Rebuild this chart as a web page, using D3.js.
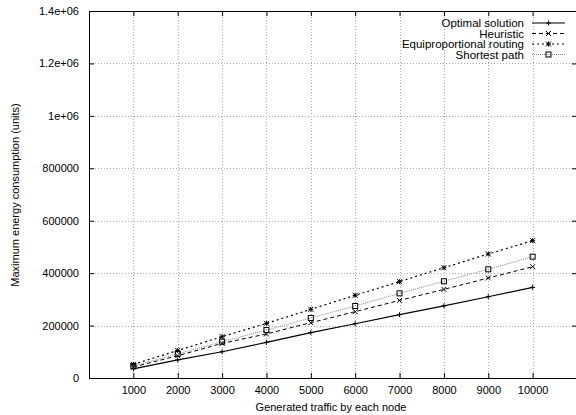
<!DOCTYPE html>
<html>
<head>
<meta charset="utf-8">
<script src="https://cdn.jsdelivr.net/npm/d3@7"></script>
<style>
  body { margin: 0; background: #fff; }
  text { font-family: "Liberation Sans", Arial, sans-serif; font-size: 11px; fill: #000; }
</style>
</head>
<body>
<div id="chart"></div>
<script>
// traffic per node
const traffic = [1000, 2000, 3000, 4000, 5000, 6000, 7000, 8000, 9000, 10000];
const optimal = [35000, 69000, 100000, 136000, 173000, 207000, 241500, 275000, 310000, 346000];
const heuristic = [42000, 85000, 132000, 168000, 211000, 253000, 296000, 338000, 381500, 424600];
const equiprop = [52000, 105000, 157600, 208600, 262000, 315500, 367500, 420800, 473000, 524000];
const shortest = [46000, 92000, 138500, 183000, 229000, 274700, 323000, 369000, 414700, 462800];
const yTicks = [0, 200000, 400000, 600000, 800000, 1000000, 1200000, 1400000];
const yTickLabels = ["0", "200000", "400000", "600000", "800000", "1e+06", "1.2e+06", "1.4e+06"];

const series = [
    { name: "Optimal solution", values: optimal, dash: null, color: "#000", marker: "plus", width: 1.2 },
    { name: "Heuristic", values: heuristic, dash: "4,3", color: "#000", marker: "cross", width: 1 },
    { name: "Equiproportional routing", values: equiprop, dash: "2,3", color: "#000", marker: "star", width: 1.2 },
    { name: "Shortest path", values: shortest, dash: "1,1", color: "#888", marker: "box", width: 1 }
];

const width = 576, height = 415;
const plotLeft = 89, plotRight = 577, plotTop = 11, plotBottom = 378;

const svg = d3.select("#chart").append("svg")
    .attr("width", width)
    .attr("height", height);

const x = d3.scaleLinear().domain([0, 11000]).range([plotLeft, plotRight]);
const y = d3.scaleLinear().domain([0, 1400000]).range([plotBottom, plotTop]);

// grid
const grid = svg.append("g").attr("class", "grid")
    .style("stroke", "#aaa")
    .style("stroke-width", 1)
    .style("stroke-dasharray", "1,2");
grid.selectAll("line.vx")
    .data(traffic)
    .enter().append("line")
    .attr("x1", d => Math.round(x(d)) + 0.5)
    .attr("x2", d => Math.round(x(d)) + 0.5)
    .attr("y1", plotTop)
    .attr("y2", plotBottom);
grid.selectAll("line.hy")
    .data(yTicks.slice(1, -1))
    .enter().append("line")
    .attr("x1", plotLeft)
    .attr("x2", plotRight)
    .attr("y1", d => Math.round(y(d)) + 0.5)
    .attr("y2", d => Math.round(y(d)) + 0.5);

// axes, ticks inward on all four sides
const xBottom = d3.axisBottom(x).tickValues(traffic).tickSize(-5).tickPadding(8).tickFormat(d3.format("d"));
const xTop = d3.axisTop(x).tickValues(traffic).tickSize(-5).tickFormat("");
const yLeft = d3.axisLeft(y).tickValues(yTicks).tickSize(-5).tickPadding(10).tickFormat((d, i) => yTickLabels[i]);
const yRight = d3.axisRight(y).tickValues(yTicks).tickSize(-5).tickFormat("");

function styleAxis(g) {
    g.select(".domain").remove();
    g.selectAll("line").attr("stroke", "#000");
    g.selectAll("text").style("font-size", "11px").style("font-family", "Liberation Sans, Arial, sans-serif");
}

svg.append("g").attr("transform", `translate(0,${plotBottom})`).call(xBottom).call(styleAxis);
svg.append("g").attr("transform", `translate(0,${plotTop})`).call(xTop).call(styleAxis);
svg.append("g").attr("transform", `translate(${plotLeft},0)`).call(yLeft).call(styleAxis);
svg.append("g").attr("transform", `translate(${plotRight},0)`).call(yRight).call(styleAxis);

svg.append("rect")
    .attr("x", plotLeft + 0.5)
    .attr("y", plotTop + 0.5)
    .attr("width", plotRight - plotLeft)
    .attr("height", plotBottom - plotTop)
    .style("fill", "none")
    .style("stroke", "#000")
    .style("stroke-width", 1);

// markers
function drawMarker(g, type, cx, cy) {
    const s = 2.5;
    if (type === "plus" || type === "star") {
        g.append("path").attr("d", `M${cx - s},${cy}H${cx + s}M${cx},${cy - s}V${cy + s}`)
            .style("stroke", "#000").style("stroke-width", 1).style("fill", "none");
    }
    if (type === "cross" || type === "star") {
        g.append("path").attr("d", `M${cx - s},${cy - s}L${cx + s},${cy + s}M${cx - s},${cy + s}L${cx + s},${cy - s}`)
            .style("stroke", "#000").style("stroke-width", 1).style("fill", "none");
    }
    if (type === "box") {
        g.append("rect").attr("x", cx - 2.5).attr("y", cy - 2.5).attr("width", 5).attr("height", 5)
            .style("stroke", "#000").style("stroke-width", 1).style("fill", "none");
    }
}

const line = d3.line()
    .x(d => x(d.t))
    .y(d => y(d.v));

series.forEach(s => {
    const pts = traffic.map((t, i) => ({ t: t, v: s.values[i] }));
    const g = svg.append("g").attr("class", "series");
    g.append("path")
        .datum(pts)
        .attr("d", line)
        .style("fill", "none")
        .style("stroke", s.color)
        .style("stroke-width", s.width)
        .style("stroke-dasharray", s.dash);
    pts.forEach(p => drawMarker(g, s.marker, x(p.t), y(p.v)));
});

// legend
const legend = svg.append("g").attr("class", "legend");
series.forEach((s, i) => {
    const ly = 23 + i * 10.5;
    legend.append("text")
        .attr("x", 524)
        .attr("y", ly + 4)
        .attr("text-anchor", "end")
        .style("font-size", "11.5px")
        .text(s.name);
    legend.append("line")
        .attr("x1", 532).attr("x2", 565)
        .attr("y1", ly).attr("y2", ly)
        .style("stroke", s.color)
        .style("stroke-width", s.width)
        .style("stroke-dasharray", s.dash);
    drawMarker(legend, s.marker, 548.5, ly);
});

// axis titles
svg.append("text")
    .attr("x", (plotLeft + 533) / 2 + 20)
    .attr("y", 411)
    .attr("text-anchor", "middle")
    .text("Generated traffic by each node");

svg.append("text")
    .attr("transform", "translate(19,195) rotate(-90)")
    .attr("text-anchor", "middle")
    .text("Maximum energy consumption (units)");
</script>
</body>
</html>
